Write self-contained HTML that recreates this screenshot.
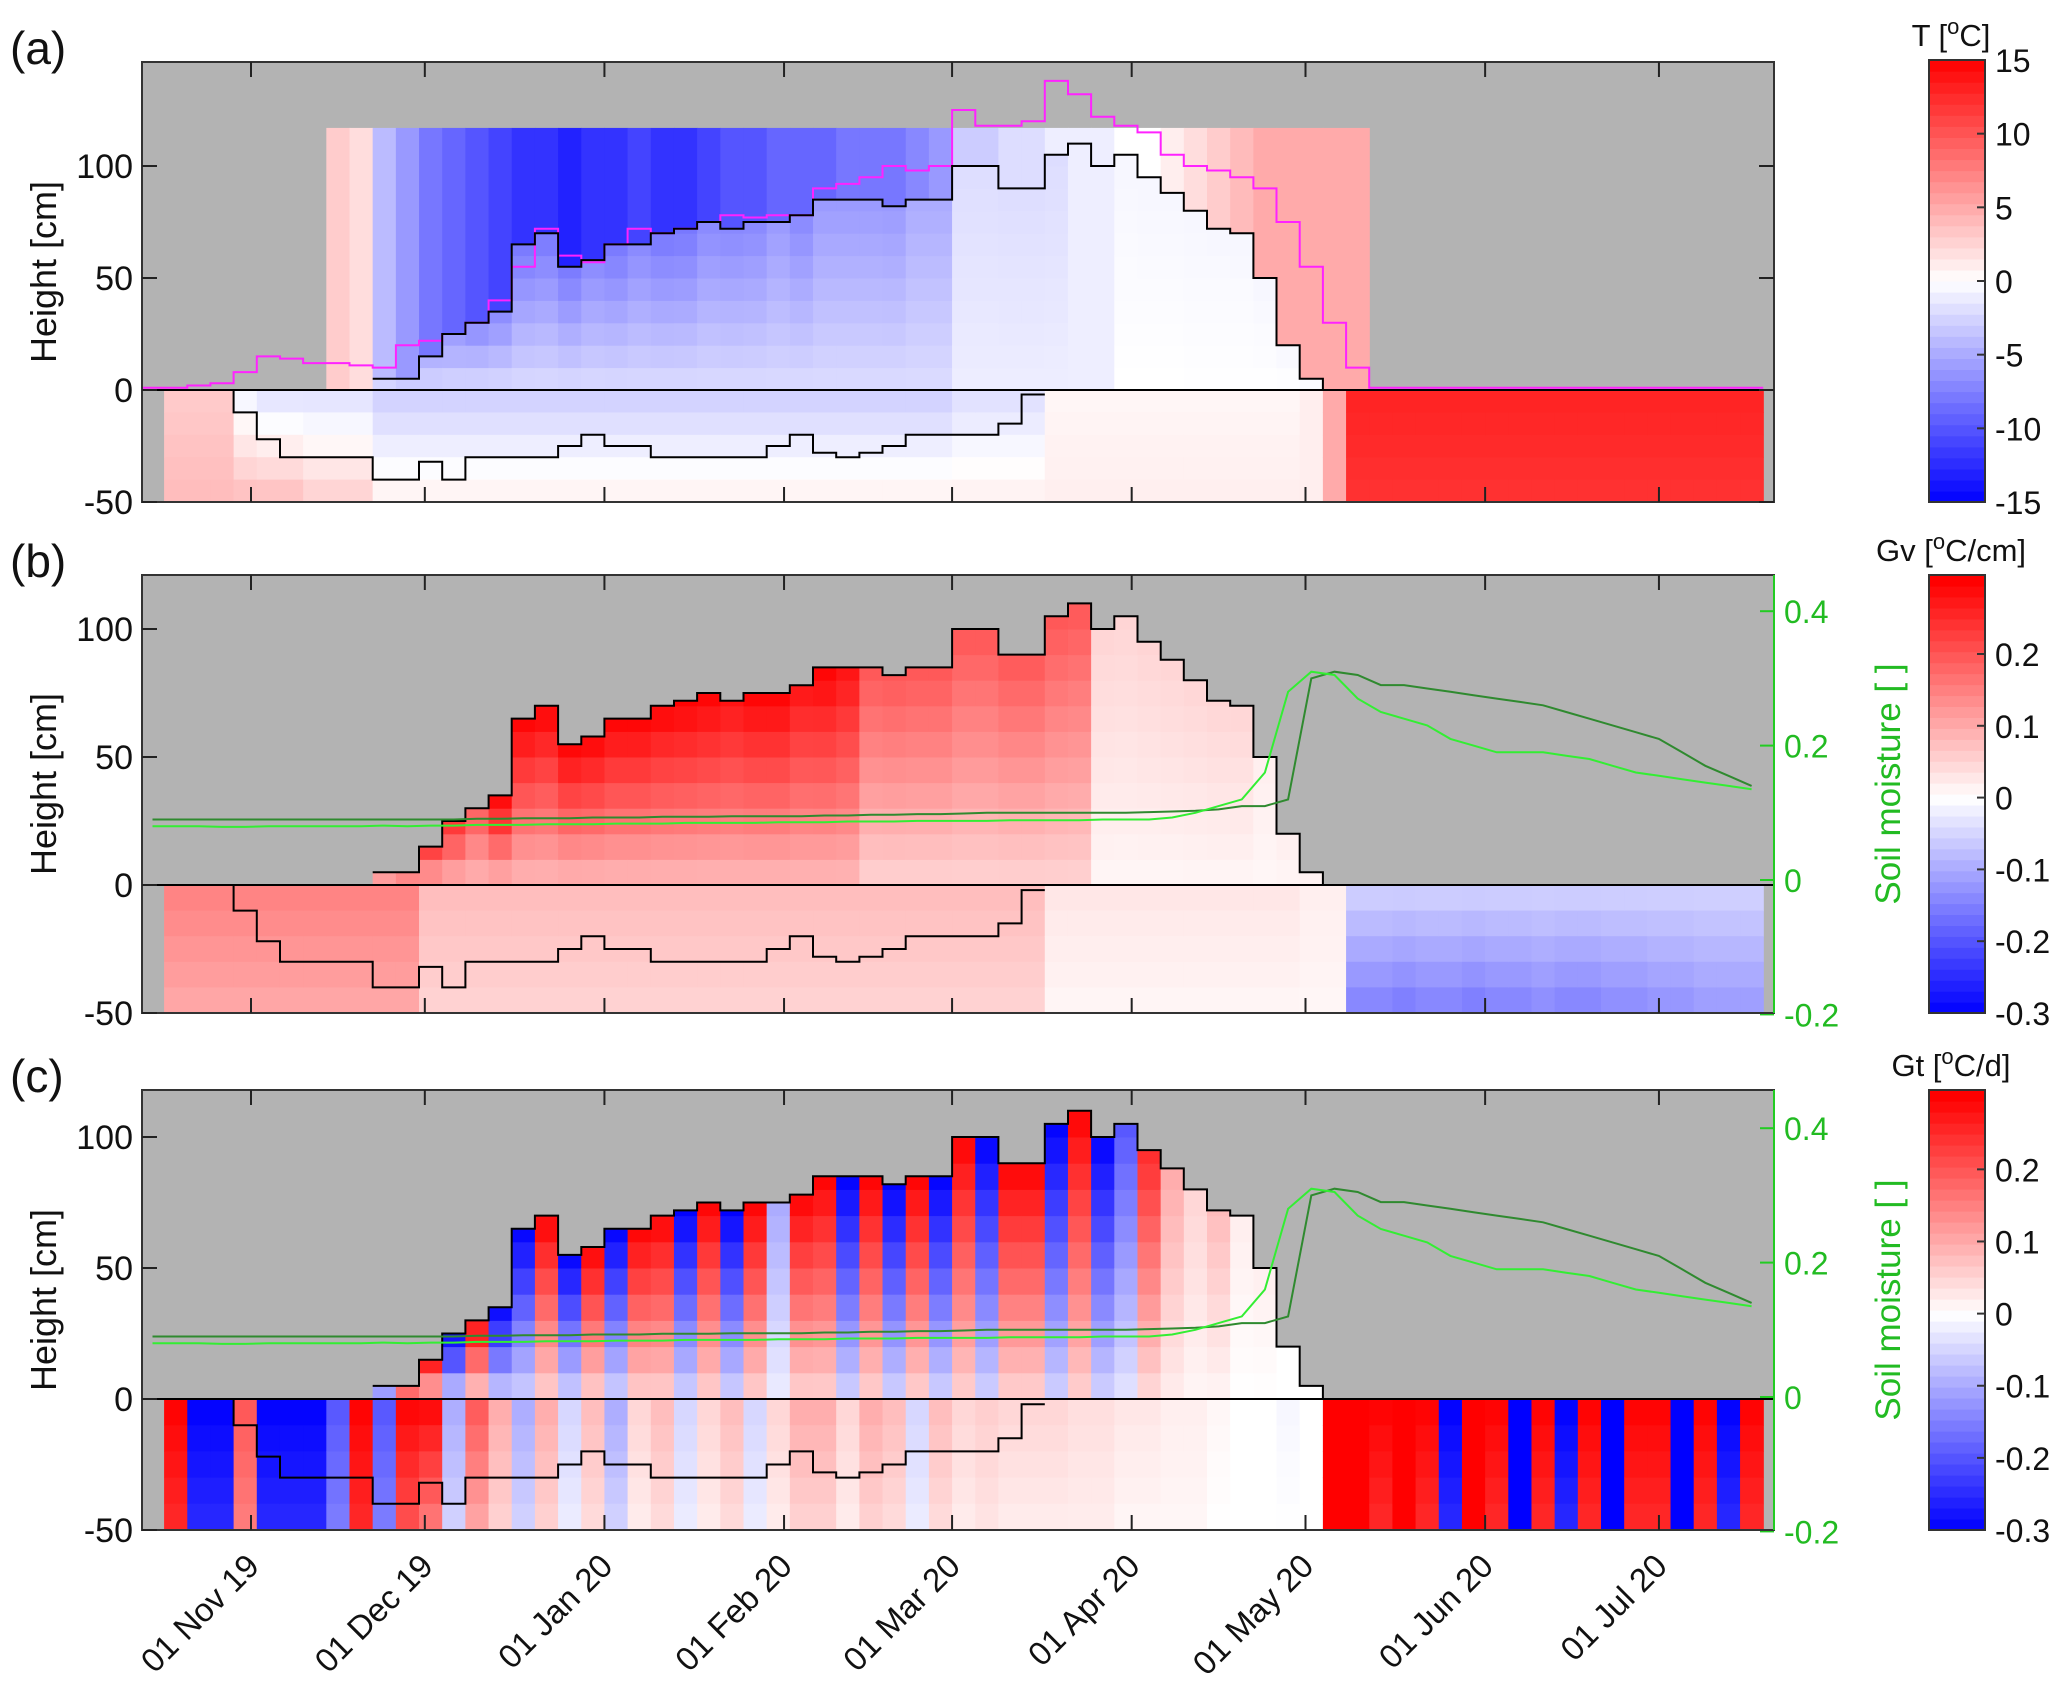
<!DOCTYPE html>
<html><head><meta charset="utf-8"><style>
html,body{margin:0;padding:0;background:#fff;}
svg{display:block;font-family:"Liberation Sans",sans-serif;}
</style></head><body>
<svg id="fig" width="2067" height="1699" viewBox="0 0 2067 1699" xmlns="http://www.w3.org/2000/svg"></svg>
<script>
// ---------- data (4-day bins starting 13 Oct 2019) ----------
const monthLabels = ["01 Nov 19","01 Dec 19","01 Jan 20","01 Feb 20","01 Mar 20","01 Apr 20","01 May 20","01 Jun 20","01 Jul 20"];
const monthDays = [0,30,61,92,121,152,182,213,243];
const heightTicks = [-50,0,50,100];
const moistTicks = [-0.2,0,0.2,0.4];
const moistTickLabels = ["-0.2","0","0.2","0.4"];
const tTicks = [-15,-10,-5,0,5,10,15];
const gTicks = [-0.3,-0.2,-0.1,0,0.1,0.2];
const gTickLabels = ["-0.3","-0.2","-0.1","0","0.1","0.2"];

const snowDepth = [0,0,0,0,0,0,0,0,0,0, 5,5,15,25,30,35,65,70,55,58, 65,65,70,72,75,72,75,75,78,85, 85,85,82,85,85,100,100,90,90,105, 110,100,105,95,88,80,72,70,50,20, 5,0,0,0,0,0,0,0,0,0, 0,0,0,0,0,0,0,0,0,0];
const magentaLine = [1,1,2,3,8,15,14,12,12,11, 10,20,22,25,30,40,55,72,60,57, 65,72,70,72,75,78,77,78,78,90, 92,95,100,98,100,125,118,118,120,138, 132,122,118,115,105,100,98,95,90,75, 55,30,10,1,1,1,1,1,1,1, 1,1,1,1,1,1,1,1,1,1];
const frostDepth = [null,null,null,0,-10,-22,-30,-30,-30,-30, -40,-40,-32,-40,-30,-30,-30,-30,-25,-20, -25,-25,-30,-30,-30,-30,-30,-25,-20,-28, -30,-28,-25,-20,-20,-20,-20,-15,-2,null, null,null,null,null,null,null,null,null,null,null, null,null,null,null,null,null,null,null,null,null, null,null,null,null,null,null,null,null,null,null];
const moistDeep = [0.09,0.09,0.09,0.09,0.09,0.09,0.09,0.09,0.09,0.09, 0.09,0.09,0.09,0.09,0.091,0.091,0.092,0.092,0.092,0.093, 0.093,0.093,0.094,0.094,0.094,0.095,0.095,0.095,0.095,0.096, 0.096,0.097,0.097,0.098,0.098,0.099,0.1,0.1,0.1,0.1, 0.1,0.1,0.1,0.101,0.102,0.103,0.105,0.11,0.11,0.12, 0.3,0.31,0.305,0.29,0.29,0.285,0.28,0.275,0.27,0.265, 0.26,0.25,0.24,0.23,0.22,0.21,0.19,0.17,0.155,0.14];
const moistShallow = [0.08,0.08,0.08,0.079,0.079,0.08,0.08,0.08,0.08,0.08, 0.081,0.08,0.081,0.081,0.082,0.082,0.082,0.083,0.083,0.083, 0.084,0.084,0.084,0.085,0.085,0.085,0.085,0.086,0.086,0.086, 0.087,0.087,0.087,0.088,0.088,0.088,0.088,0.089,0.089,0.089, 0.089,0.09,0.09,0.09,0.093,0.1,0.11,0.12,0.16,0.28, 0.31,0.305,0.27,0.25,0.24,0.23,0.21,0.2,0.19,0.19, 0.19,0.185,0.18,0.17,0.16,0.155,0.15,0.145,0.14,0.135];

// panel (a) temperature [degC]
const airT = [null,null,null,null,null,null,null,null,3,2, -4,-6,-8,-9,-10,-11,-12,-12,-13,-12, -12,-11,-12,-12,-11,-10,-10,-9,-9,-9, -8,-8,-8,-7,-6,-3,-3,-2,-2,-1, -1,-1,0,0,1,2,3,4,5,5, 5,5,5,null,null,null,null,null,null,null, null,null,null,null,null,null,null,null,null,null];
const snowTopT = [null,null,null,null,null,null,null,null,null,null, -3,-4,-5,-6,-7,-7,-8,-8,-8,-7, -8,-7,-8,-8,-7,-7,-7,-6,-7,-6, -6,-6,-6,-5,-5,-2,-2,-2,-2,-2, -1,-1,-0.5,-0.5,-0.5,-0.5,-0.5,-0.5,-0.5,-0.5, -0.5,null,null,null,null,null,null,null,null,null, null,null,null,null,null,null,null,null,null,null];
const snowBaseT = [null,null,null,null,null,null,null,null,null,null, -2,-2,-2,-2,-2,-2,-2,-2,-2,-2, -2,-2,-2,-2,-2,-2,-2,-2,-2,-2, -2,-2,-2,-2,-2,-1,-1,-1,-1,-1, -1,-1,0,0,0,0,0,0,0,0, 0,null,null,null,null,null,null,null,null,null, null,null,null,null,null,null,null,null,null,null];
const soilTopT = [null,3,3,3,-1,-2,-2,-2,-2,-2, -3,-3,-3,-3,-3,-3,-3,-3,-3,-3, -3,-3,-3,-3,-3,-3,-3,-3,-3,-3, -3,-3,-3,-3,-3,-2,-2,-2,-2,0.5, 0.5,0.5,0.5,0.5,0.5,0.5,0.5,0.5,0.5,0.5, 1,5,13,13,13,13,13,13,13,13, 13,13,13,13,13,13,13,13,13,13];
const soilBotT = [null,4,4,4,4,4,4,3,3,3, 1,1,1,1,1,1,1,1,1,1, 1,1,1,1,1,1,1,1,1,1, 1,1,1,1,1,1,1,1,1,1, 1,1,1,1,1,1,1,1,1,1, 1,5,12,12,12,12,12,12,12,12, 12,12,12,12,12,12,12,12,12,12];

// panel (b) vertical gradient [degC/cm]
const gvSnowTop = [null,null,null,null,null,null,null,null,null,null, 0.15,0.2,0.25,0.25,0.2,0.3,0.3,0.3,0.3,0.3, 0.3,0.3,0.3,0.3,0.3,0.28,0.3,0.3,0.28,0.3, 0.28,0.2,0.2,0.2,0.2,0.2,0.2,0.2,0.2,0.2, 0.2,0.05,0.05,0.05,0.05,0.05,0.05,0.05,0.02,0.02, 0.02,null,null,null,null,null,null,null,null,null, null,null,null,null,null,null,null,null,null,null];
const gvSnowBase = [null,null,null,null,null,null,null,null,null,null, 0.08,0.08,0.08,0.08,0.08,0.08,0.08,0.08,0.08,0.08, 0.08,0.08,0.08,0.08,0.08,0.08,0.08,0.08,0.08,0.08, 0.08,0.05,0.05,0.05,0.05,0.05,0.05,0.05,0.05,0.05, 0.05,0.01,0.01,0.01,0.01,0.01,0.01,0.01,0.01,0.01, 0.01,null,null,null,null,null,null,null,null,null, null,null,null,null,null,null,null,null,null,null];
const gvSoilTop = [null,0.15,0.15,0.15,0.15,0.15,0.15,0.15,0.15,0.15, 0.15,0.15,0.08,0.08,0.08,0.08,0.08,0.08,0.08,0.08, 0.08,0.08,0.08,0.08,0.08,0.08,0.08,0.08,0.08,0.08, 0.08,0.08,0.08,0.08,0.08,0.08,0.08,0.08,0.08,0.03, 0.03,0.03,0.03,0.03,0.03,0.03,0.03,0.03,0.03,0.03, 0.02,0.02,-0.05,-0.05,-0.05,-0.05,-0.05,-0.05,-0.05,-0.05, -0.05,-0.05,-0.05,-0.05,-0.05,-0.05,-0.05,-0.05,-0.05,-0.05];
const gvSoilBot = [null,0.1,0.1,0.1,0.1,0.1,0.1,0.1,0.1,0.1, 0.1,0.1,0.05,0.05,0.05,0.05,0.05,0.05,0.05,0.05, 0.05,0.05,0.05,0.05,0.05,0.05,0.05,0.05,0.05,0.05, 0.05,0.05,0.05,0.05,0.05,0.05,0.05,0.05,0.05,0.01, 0.01,0.01,0.01,0.01,0.01,0.01,0.01,0.01,0.01,0.01, 0.01,0.01,-0.15,-0.15,-0.16,-0.15,-0.15,-0.16,-0.15,-0.15, -0.14,-0.15,-0.15,-0.14,-0.14,-0.13,-0.13,-0.12,-0.12,-0.12];

// panel (c) temporal gradient [degC/d]
const gtSnowTop = [null,null,null,null,null,null,null,null,null,null, -0.2,0.3,0.3,-0.3,0.3,-0.3,-0.3,0.3,-0.3,0.3, -0.3,0.3,0.3,-0.3,0.3,-0.3,0.3,-0.1,0.3,0.3, -0.3,0.3,-0.3,0.3,-0.3,0.3,-0.3,0.3,0.3,-0.3, 0.3,-0.3,-0.2,0.25,0.1,0.05,0.08,0.02,0.02,0, 0,null,null,null,null,null,null,null,null,null, null,null,null,null,null,null,null,null,null,null];
const gtSnowBase = [null,null,null,null,null,null,null,null,null,null, -0.03,0.05,0.05,-0.05,0.05,-0.05,-0.05,0.05,-0.05,0.05, -0.05,0.05,0.05,-0.05,0.05,-0.05,0.05,-0.02,0.05,0.05, -0.05,0.05,-0.05,0.05,-0.05,0.05,-0.05,0.05,0.05,-0.05, 0.05,-0.05,-0.03,0.04,0.02,0.01,0.01,0,0,0, 0,null,null,null,null,null,null,null,null,null, null,null,null,null,null,null,null,null,null,null];
const gtSoilTop = [null,0.3,-0.3,-0.3,0.2,-0.3,-0.3,-0.3,-0.2,0.3, -0.2,0.3,0.3,-0.1,0.2,0.1,-0.1,0.1,-0.05,0.08, -0.1,0.05,0.08,-0.05,0.05,0.08,-0.05,0.05,0.1,0.1, 0.05,0.1,0.08,-0.05,0.08,0.05,0.06,0.05,0.05,0.05, 0.04,0.04,0.03,0.03,0.02,0.02,0.01,0,0,-0.01, 0,0.3,0.3,0.3,0.3,0.3,-0.3,0.3,0.3,-0.3, 0.3,-0.3,0.3,-0.3,0.3,0.3,-0.3,0.3,-0.3,0.3];
const gtSoilBot = [null,0.25,-0.25,-0.25,0.15,-0.25,-0.25,-0.25,-0.15,0.25, -0.15,0.2,0.15,-0.05,0.1,0.05,-0.05,0.05,-0.02,0.04, -0.05,0.02,0.04,-0.02,0.02,0.04,-0.02,0.02,0.05,0.05, 0.02,0.05,0.04,-0.02,0.04,0.02,0.03,0.02,0.02,0.02, 0.02,0.02,0.01,0.01,0.01,0.01,0,0,0,0, 0,0.3,0.3,0.25,0.3,0.25,-0.25,0.3,0.25,-0.3, 0.25,-0.25,0.25,-0.3,0.25,0.25,-0.3,0.25,-0.25,0.25];

// ---------- layout ----------
const NS = "http://www.w3.org/2000/svg";
const svg = document.getElementById('fig');
const L = 142, R = 1774;
const BIN0 = -19, BINW = 4;
const X = d => 251 + d * 5.794;
const panels = [
  {id:'a', top:62, zero:390, bottom:502, k:2.24, label:'(a)', cb:{top:60,bottom:502,min:-15,max:15}},
  {id:'b', top:575, zero:885, bottom:1013, k:2.56, label:'(b)', cb:{top:575,bottom:1013,min:-0.3,max:0.31}},
  {id:'c', top:1090, zero:1399, bottom:1530, k:2.62, label:'(c)', cb:{top:1090,bottom:1530,min:-0.3,max:0.31}}
];
function el(tag, attrs, parent){ const e=document.createElementNS(NS,tag); for(const k in attrs) e.setAttribute(k,attrs[k]); (parent||svg).appendChild(e); return e; }
function cmap(v, vmax){
  let t = Math.max(-1, Math.min(1, v / vmax));
  if (t < 0){ const c = Math.round(255*(1+t)); return `rgb(${c},${c},255)`; }
  const c = Math.round(255*(1-t)); return `rgb(255,${c},${c})`;
}

function drawPanel(p, air, sTop, sBase, soTop, soBot, vmax, withMoist){
  const Y = h => p.zero - h * p.k;
  const g = el('g', {});  
  const clipId = 'clip' + p.id;
  const cp = el('clipPath', {id: clipId}, g); el('rect', {x:L, y:p.top, width:R-L, height:p.bottom-p.top}, cp);
  const bg = el('rect', {x:L, y:p.top, width:R-L, height:p.bottom-p.top, fill:'#b3b3b3'}, g);
   
  const heat = el('g', {'clip-path':`url(#${clipId})`}, g);
   
  for (let i = 0; i < snowDepth.length; i++){
    const x0 = X(BIN0 + BINW*i), x1 = X(BIN0 + BINW*(i+1)) + 0.6;
    const sd = snowDepth[i];
    if (air && air[i] !== null && sd < 117){
      const r = el('rect', {x:x0, y:Y(117), width:x1-x0, height:Y(sd)-Y(117), fill:cmap(air[i], vmax)}, heat);
       
    }
    if (sd > 0 && sTop[i] !== null){
      for (let h = 0; h < sd; h += 10){
        const h2 = Math.min(h+10, sd), f = (h + h2) / 2 / sd;
        const v = sBase[i] + (sTop[i] - sBase[i]) * f;
        const r = el('rect', {x:x0, y:Y(h2), width:x1-x0, height:Y(h)-Y(h2)+0.5, fill:cmap(v, vmax)}, heat);
         
      }
    }
    if (soTop[i] !== null){
      for (let h = 0; h > -50; h -= 10){
        const f = (-h + 5) / 50;
        const v = soTop[i] + (soBot[i] - soTop[i]) * f;
        const r = el('rect', {x:x0, y:Y(h), width:x1-x0, height:Y(h-10)-Y(h)+0.5, fill:cmap(v, vmax)}, heat);
         
      }
    }
  }
  function stepPath(arr, skipZero){
    let d = '', pen = false;
    for (let i = 0; i < arr.length; i++){
      const v = arr[i];
      if (v === null || (skipZero && v <= 0 && !(i>0 && arr[i-1]>0))){ pen = false; continue; }
      const x0 = X(BIN0 + BINW*i), x1 = X(BIN0 + BINW*(i+1));
      d += (pen ? 'L' : 'M') + x0.toFixed(1) + ' ' + Y(v).toFixed(1) + ' L' + x1.toFixed(1) + ' ' + Y(v).toFixed(1) + ' ';
      pen = true;
    }
    return d;
  }
  const lines = el('g', {'clip-path':`url(#${clipId})`}, g);
  const zl = el('line', {x1:L, x2:R, y1:Y(0), y2:Y(0), stroke:'#000', 'stroke-width':2}, lines);
   
  const fl = el('path', {d:stepPath(frostDepth,false), fill:'none', stroke:'#000', 'stroke-width':2}, lines);
   
  if (p.id === 'a'){
    const ml = el('path', {d:stepPath(magentaLine,false), fill:'none', stroke:'#ff22ff', 'stroke-width':2}, lines);
     
  }
  const sl = el('path', {d:stepPath(snowDepth,true), fill:'none', stroke:'#000', 'stroke-width':2}, lines);
   
  if (withMoist){
    const z0 = p.id === 'b' ? 880 : 1397;
    const YM = s => z0 - s * 672;
    function linePath(arr){ let d=''; arr.forEach((v,i)=>{ const x = X(BIN0 + BINW*(i+0.5)); d += (i?'L':'M') + x.toFixed(1) + ' ' + YM(v).toFixed(1) + ' '; }); return d; }
    const md = el('path', {d:linePath(moistDeep), fill:'none', stroke:'#2f8a2f', 'stroke-width':2}, lines);
     
    const ms = el('path', {d:linePath(moistShallow), fill:'none', stroke:'#33ee33', 'stroke-width':2}, lines);
     
    moistTicks.forEach((s,j)=>{
      const y = YM(s);
      el('line', {x1:R-14, x2:R, y1:y, y2:y, stroke:'#22cc22', 'stroke-width':2}, g);
      const t = el('text', {x:R+10, y:y+12, 'font-size':32, fill:'#22bb22'}, g);
      t.textContent = moistTickLabels[j];
       
    });
    const cy = (p.top+p.bottom)/2 - 10;
    const yt = el('text', {x:1900, y:cy, 'font-size':35, fill:'#22bb22', 'text-anchor':'middle', transform:`rotate(-90 1900 ${cy})`}, g);
    yt.textContent = 'Soil moisture [ ]';
     
  }
  const fr = el('rect', {x:L, y:p.top, width:R-L, height:p.bottom-p.top, fill:'none', stroke:'#333', 'stroke-width':2}, g);
   
  if (withMoist){
    const ra = el('line', {x1:R, x2:R, y1:p.top, y2:p.bottom, stroke:'#22cc22', 'stroke-width':2}, g);
     
  }
  monthDays.forEach(d=>{
    const x = X(d);
    el('line', {x1:x, x2:x, y1:p.top, y2:p.top+15, stroke:'#222', 'stroke-width':2}, g);
    el('line', {x1:x, x2:x, y1:p.bottom, y2:p.bottom-15, stroke:'#222', 'stroke-width':2}, g);
  });
  heightTicks.forEach(h=>{
    const y = Y(h);
    el('line', {x1:L, x2:L+15, y1:y, y2:y, stroke:'#222', 'stroke-width':2}, g);
    if (!withMoist) el('line', {x1:R-15, x2:R, y1:y, y2:y, stroke:'#222', 'stroke-width':2}, g);
    const t = el('text', {x:L-9, y:y+12, 'font-size':34, 'text-anchor':'end', fill:'#111'}, g);
    t.textContent = String(h);
     
  });
  const hy = (p.top+p.bottom)/2 - 10;
  const yl = el('text', {x:56, y:hy, 'font-size':36, 'text-anchor':'middle', fill:'#111', transform:`rotate(-90 56 ${hy})`}, g);
  yl.textContent = 'Height [cm]';
   
  const pl = el('text', {x:10, y:p.top + 2, 'font-size':46, fill:'#111'}, g);
  pl.textContent = p.label;
   
}

function drawColorbar(p, title, unitTail, ticks, labels, vmax){
  const g = el('g', {});  
  const cb = p.cb, x0 = 1929, w = 56, n = 40;
  const Yc = v => cb.bottom - (v - cb.min) / (cb.max - cb.min) * (cb.bottom - cb.top);
  for (let j = 0; j < n; j++){
    const v0 = cb.min + (cb.max - cb.min) * j / n, v1 = cb.min + (cb.max - cb.min) * (j+1) / n;
    el('rect', {x:x0, y:Yc(v1), width:w, height:Yc(v0)-Yc(v1)+0.6, fill:cmap((v0+v1)/2, vmax)}, g);
  }
  el('rect', {x:x0, y:cb.top, width:w, height:cb.bottom-cb.top, fill:'none', stroke:'#333', 'stroke-width':2}, g);
  ticks.forEach((v,j)=>{
    const y = Yc(v);
    el('line', {x1:x0+w-8, x2:x0+w, y1:y, y2:y, stroke:'#333', 'stroke-width':2}, g);
    const t = el('text', {x:x0+w+10, y:y+12, 'font-size':32, fill:'#111'}, g);
    t.textContent = labels[j];
     
  });
  const tt = el('text', {x:x0+22, y:cb.top - 14, 'font-size':31, 'text-anchor':'middle', fill:'#111'}, g);
  const s1 = el('tspan', {}, tt); s1.textContent = title + ' [';
  const s2 = el('tspan', {dy:-12, 'font-size':22}, tt); s2.textContent = 'o';
  const s3 = el('tspan', {dy:12}, tt); s3.textContent = unitTail + ']';
   
}

drawPanel(panels[0], airT, snowTopT, snowBaseT, soilTopT, soilBotT, 15, false);
drawPanel(panels[1], null, gvSnowTop, gvSnowBase, gvSoilTop, gvSoilBot, 0.3, true);
drawPanel(panels[2], null, gtSnowTop, gtSnowBase, gtSoilTop, gtSoilBot, 0.3, true);
drawColorbar(panels[0], 'T', 'C', tTicks, tTicks.map(String), 15);
drawColorbar(panels[1], 'Gv', 'C/cm', gTicks, gTickLabels, 0.3);
drawColorbar(panels[2], 'Gt', 'C/d', gTicks, gTickLabels, 0.3);

monthDays.forEach((d,j)=>{
  const x = X(d) + 10, y = 1568;
  const t = el('text', {x:x, y:y, 'font-size':33, 'text-anchor':'end', fill:'#111', transform:`rotate(-45 ${x} ${y})`});
  t.textContent = monthLabels[j];
   
});
</script>
</body></html>
